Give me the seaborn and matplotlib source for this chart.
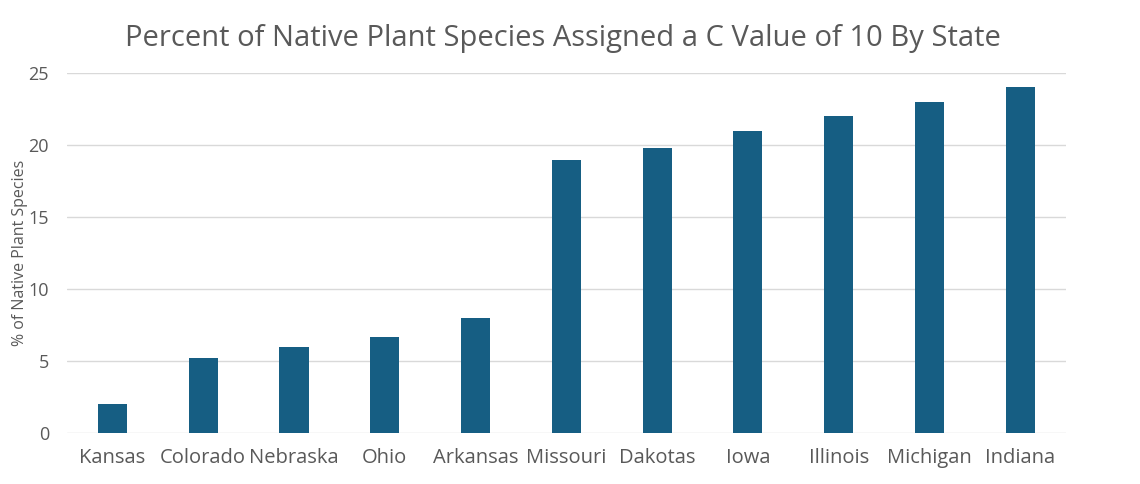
import matplotlib
matplotlib.use("Agg")
import matplotlib.pyplot as plt
import pandas as pd
import seaborn as sns

states = ['Kansas', 'Colorado', 'Nebraska', 'Ohio', 'Arkansas', 'Missouri',
          'Dakotas', 'Iowa', 'Illinois', 'Michigan', 'Indiana']
percent_c10 = [2.0, 5.2, 6.0, 6.7, 8.0, 19.0, 19.8, 21.0, 22.0, 23.0, 24.0]
y_ticks = [0, 5, 10, 15, 20, 25]

df = pd.DataFrame({'Estado': states, 'Pct': percent_c10})

sns.set_style("white")
plt.rcParams['font.family'] = ['Open Sans', 'DejaVu Sans']

fig = plt.figure(figsize=(11.4, 4.84), dpi=100)
ax = fig.add_axes([0.0588, 0.105, 0.876, 0.744])

sns.barplot(data=df, x='Estado', y='Pct', color='#165E83', width=0.32,
            saturation=1, linewidth=0, ax=ax, zorder=3)

ax.set_ylim(0, 25)
ax.set_yticks(y_ticks)
ax.yaxis.grid(True, color='#d9d9d9', linewidth=1, zorder=0)
ax.set_axisbelow(True)
sns.despine(left=True, bottom=True)
ax.tick_params(axis='both', length=0, colors='#595959')
ax.tick_params(axis='x', labelsize=14.5, pad=11)
ax.tick_params(axis='y', labelsize=13, pad=13)
ax.set_xlabel('')
ax.set_ylabel('% of Native Plant Species', fontsize=11.5, color='#595959')
ax.yaxis.set_label_coords(-0.039, 0.5)

fig.suptitle('Percent of Native Plant Species Assigned a C Value of 10 By State',
             x=0.494, y=0.95, fontsize=21, color='#595959')

fig.savefig('out.png', dpi=100)
